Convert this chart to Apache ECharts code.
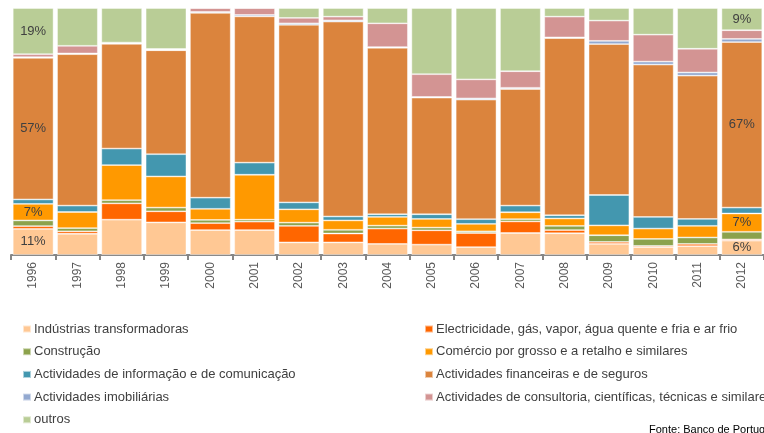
<!DOCTYPE html>
<html>
<head>
<meta charset="utf-8">
<script src="https://cdn.jsdelivr.net/npm/echarts@6/dist/echarts.min.js"></script>
<style>
    body { margin: 0; background: #ffffff; }
    #chart { width: 764px; height: 433px; }
</style>
</head>
<body>
<div id="chart"></div>
<script>
var years = ['1996', '1997', '1998', '1999', '2000', '2001', '2002', '2003', '2004', '2005', '2006', '2007', '2008', '2009', '2010', '2011', '2012'];

// % do total, por ano
var industrias = [10.6, 8.6, 14.3, 13.2, 10.1, 10.1, 5.1, 5.1, 4.5, 4.2, 3.2, 8.9, 8.8, 4.5, 3.2, 3.6, 5.8];
var electricidade = [1.1, 1.0, 6.6, 4.5, 2.8, 3.4, 6.7, 3.6, 6.2, 5.8, 5.7, 4.7, 1.3, 0.8, 0.5, 0.9, 0.5];
var construcao = [2.3, 1.3, 1.3, 1.5, 1.3, 0.8, 1.3, 1.5, 1.2, 1.1, 0.7, 0.9, 1.7, 2.7, 2.8, 2.6, 3.1];
var comercio = [6.7, 6.5, 14.2, 12.6, 4.5, 18.2, 5.4, 3.8, 3.5, 3.5, 3.0, 2.8, 3.0, 4.0, 4.2, 4.7, 7.4];
var informacao = [1.8, 2.6, 6.7, 9.0, 4.5, 4.9, 2.8, 1.6, 1.1, 1.9, 1.9, 2.7, 1.3, 12.3, 4.7, 2.8, 2.4];
var financeiras = [57.3, 61.3, 42.4, 42.1, 74.8, 59.2, 71.9, 78.9, 67.4, 47.2, 48.4, 47.2, 71.7, 61.1, 61.7, 58.0, 67.0];
var imobiliarias = [0.3, 0.3, 0.2, 0.2, 0.4, 0.6, 0.6, 0.5, 0.3, 0.3, 0.5, 0.5, 0.3, 1.3, 1.2, 1.3, 1.3];
var consultoria = [1.2, 3.1, 0.3, 0.3, 1.6, 2.8, 2.2, 1.5, 9.6, 9.2, 7.7, 6.7, 8.4, 8.2, 10.9, 9.6, 3.5];
var outros = [18.7, 15.3, 14.0, 16.6, 0, 0, 4.0, 3.5, 6.2, 26.8, 28.9, 25.6, 3.5, 5.1, 10.8, 16.5, 9.0];

var names = [
    'Indústrias transformadoras',
    'Electricidade, gás, vapor, água quente e fria e ar frio',
    'Construção',
    'Comércio por grosso e a retalho e similares',
    'Actividades de informação e de comunicação',
    'Actividades financeiras e de seguros',
    'Actividades imobiliárias',
    'Actividades de consultoria, científicas, técnicas e similares',
    'outros'
];
var colors = ['#FFC894', '#FF6600', '#8CA24C', '#FF9900', '#4397AF', '#DB843D', '#93A9D0', '#D39493', '#B9CD96'];
var values = [industrias, electricidade, construcao, comercio, informacao, financeiras, imobiliarias, consultoria, outros];
// só a primeira e a última barra têm rótulo
var labelled = [true, false, false, true, false, true, false, false, true];

var series = [];
for ( var i = 0; i < names.length; i++ ) {
    series.push( {
        name: names[i],
        type: 'bar',
        stack: 'total',
        barCategoryGap: '8%',
        data: values[i],
        itemStyle: {
            color: colors[i],
            borderColor: 'rgba(255,255,255,0.55)',
            borderWidth: 0.8
        },
        label: {
            show: labelled[i],
            position: 'inside',
            color: '#404040',
            fontSize: 13,
            fontFamily: 'Liberation Sans',
            formatter: function ( params ) {
                if ( params.dataIndex === 0 || params.dataIndex === years.length - 1 ) {
                    return Math.round( params.value ) + '%';
                }
                return '';
            }
        }
    } );
}

var legendBase = {
    orient: 'vertical',
    top: 322,
    height: 111,
    padding: 0,
    itemWidth: 8,
    itemHeight: 7,
    itemGap: 8.7,
    icon: 'rect',
    textStyle: {
        color: '#404040',
        fontSize: 13,
        fontFamily: 'Liberation Sans',
        lineHeight: 14,
        padding: [0, 0, 0, -2]
    }
};

var option = {
    animation: false,
    backgroundColor: '#ffffff',
    grid: {
        left: 11,
        top: 8,
        width: 763,
        height: 247
    },
    xAxis: {
        type: 'category',
        data: years,
        axisLine: { lineStyle: { color: '#868686', width: 2 } },
        axisTick: { show: true, length: 5, lineStyle: { color: '#868686', width: 2 } },
        axisLabel: {
            rotate: 90,
            color: '#595959',
            fontSize: 12,
            fontFamily: 'Liberation Sans',
            margin: 7
        }
    },
    yAxis: {
        type: 'value',
        min: 0,
        max: 100,
        show: false
    },
    legend: [
        Object.assign( {}, legendBase, { left: 22, data: [names[0], names[2], names[4], names[6], names[8]] } ),
        Object.assign( {}, legendBase, { left: 424, data: [names[1], names[3], names[5], names[7]] } )
    ],
    graphic: [{
        type: 'text',
        left: 649,
        top: 424,
        style: {
            text: 'Fonte: Banco de Portugal',
            fill: '#000000',
            font: '11px "Liberation Sans"'
        }
    }],
    series: series
};

var chart = echarts.init( document.getElementById( 'chart' ) );
chart.setOption( option );
</script>
</body>
</html>
